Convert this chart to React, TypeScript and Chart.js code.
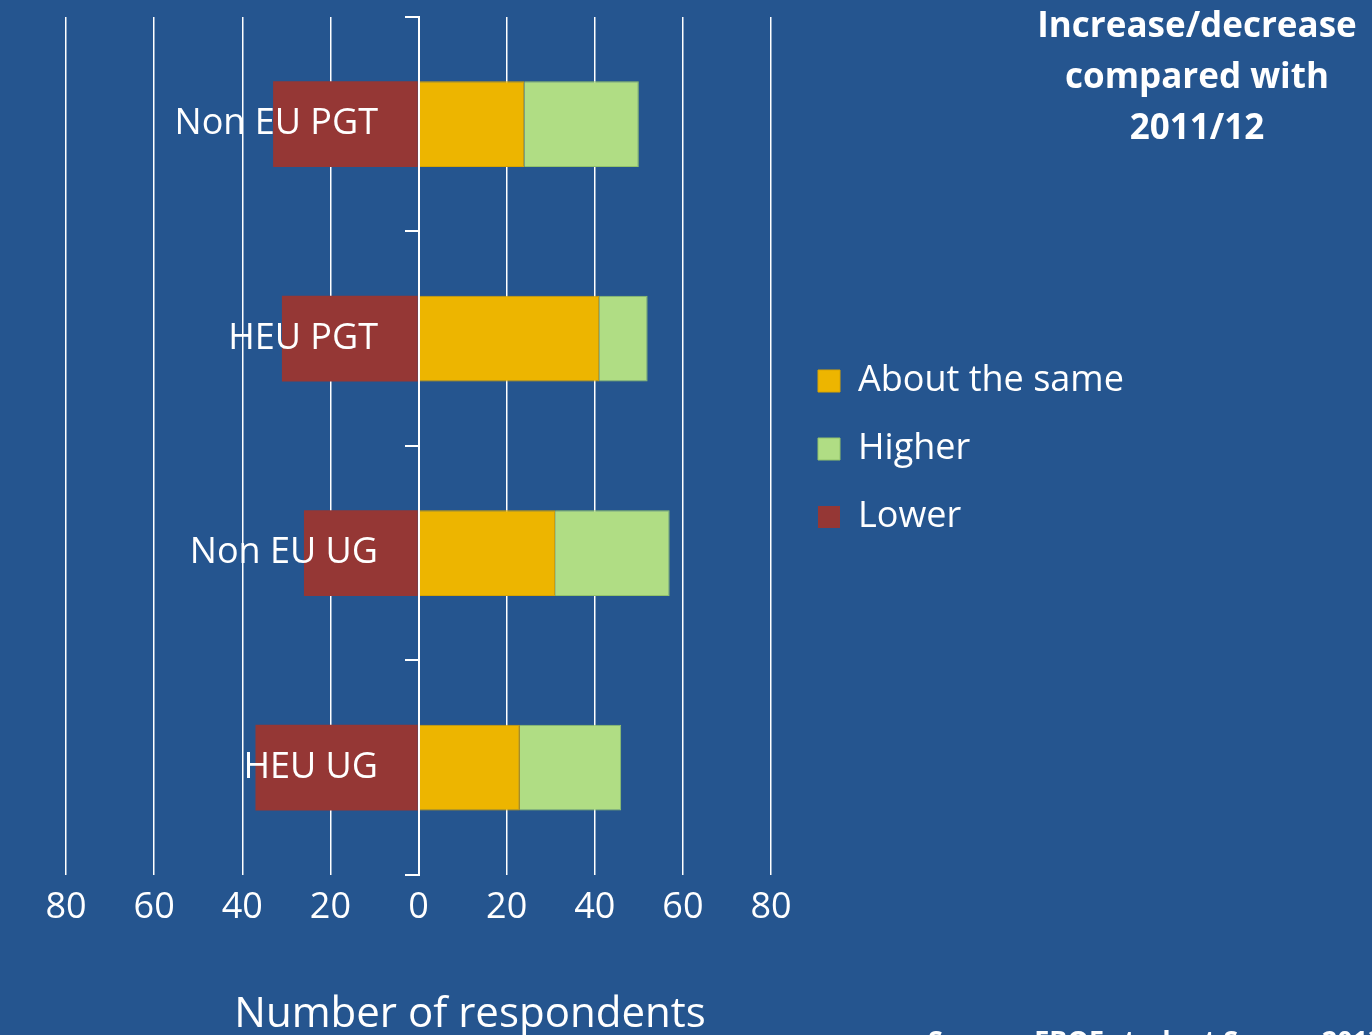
import React, { useEffect, useRef } from 'react';
import { Chart, registerables } from 'chart.js';

Chart.register(...registerables);

// ---- Data ----
const CATEGORIES = ['Non EU PGT', 'HEU PGT', 'Non EU UG', 'HEU UG'];
const ABOUT_THE_SAME = [24, 41, 31, 23];
const HIGHER = [26, 11, 26, 23];
const LOWER = [-33, -31, -26, -37];
const SERIES_NAMES = ['About the same', 'Higher', 'Lower'];
const X_MIN = -80;
const X_TICK_MAX = 80;
const X_STEP = 20;

const TITLE_LINES = ['Increase/decrease', 'compared with', '2011/12'];
const AXIS_TITLE = 'Number of respondents';
const SOURCE_TEXT = 'Source: EBQF student Survey 2013';

// ---- Styles ----
const BG = '#25558F';
const FONT = '"Open Sans", "DejaVu Sans", sans-serif';
const C_SAME = '#EDB500';
const C_HIGHER = '#B0DD84';
const C_LOWER = '#953735';

const zeroPadding = (s: any) => {
  s.paddingTop = 0;
  s.paddingBottom = 0;
};

export default function App() {
  const ref = useRef<HTMLCanvasElement>(null);

  useEffect(() => {
    document.body.style.margin = '0';
    document.body.style.background = BG;
    const canvas = ref.current!;

    // plot geometry (pixels)
    const plotTop = 17;
    const plotLeft = 66;
    const plotTickRight = 771; // pixel of +80
    const zeroPx = plotLeft + (plotTickRight - plotLeft) / 2;
    const labelRightPx = 378;
    const legendFontSize = 36;
    const legendPad = 32;
    const legendBoxLeft = 818;
    const legendLeft = legendBoxLeft - legendPad;
    const legendFirstTextMid = 381;
    const legendTitleFont = 10;
    const legendTitleSpace =
      legendFirstTextMid - legendFontSize / 2 - legendPad - plotTop - legendTitleFont * 1.2;

    const mctx = document.createElement('canvas').getContext('2d')!;
    mctx.font = `${legendFontSize}px ${FONT}`;
    const maxText = Math.max(...SERIES_NAMES.map((t) => mctx.measureText(t).width));
    const legendWidth = legendPad + 22 + legendFontSize / 2 + maxText + 10;
    const rightPad = Math.max(0, 1372 - (legendLeft + legendWidth));

    const pxPerUnit = (plotTickRight - plotLeft) / (X_TICK_MAX - X_MIN);
    const xMax = X_MIN + (legendLeft - plotLeft) / pxPerUnit;
    const labelAxisValue = (labelRightPx - zeroPx) / pxPerUnit;

    const chart = new Chart(canvas, {
      type: 'bar',
      data: {
        labels: CATEGORIES,
        datasets: [
          {
            label: SERIES_NAMES[0],
            data: ABOUT_THE_SAME,
            backgroundColor: C_SAME,
            borderColor: '#D9A400',
            borderWidth: 1,
          },
          {
            label: SERIES_NAMES[1],
            data: HIGHER,
            backgroundColor: C_HIGHER,
            borderColor: '#93C36A',
            borderWidth: 1,
          },
          {
            label: SERIES_NAMES[2],
            data: LOWER,
            backgroundColor: C_LOWER,
            borderColor: C_LOWER,
            borderWidth: 0,
          },
        ],
      },
      options: {
        indexAxis: 'y',
        responsive: false,
        maintainAspectRatio: false,
        animation: false,
        layout: {
          padding: { top: plotTop, left: plotLeft, right: rightPad, bottom: 95 },
        },
        datasets: {
          bar: { barPercentage: 0.4, categoryPercentage: 1 },
        },
        scales: {
          x: {
            type: 'linear',
            stacked: true,
            min: X_MIN,
            max: xMax,
            position: 'bottom',
            ticks: {
              stepSize: X_STEP,
              includeBounds: false,
              color: '#FFFFFF',
              font: { family: FONT, size: 36 },
              padding: 11,
              callback: (v: any) => String(Math.abs(Number(v))),
            },
            grid: {
              color: '#FFFFFF',
              lineWidth: 1.5,
              drawTicks: false,
            },
            border: { display: false },
          },
          y: {
            type: 'category',
            stacked: true,
            position: { x: 0 } as any,
            offset: true,
            afterFit: zeroPadding,
            ticks: { display: false },
            grid: {
              offset: true,
              drawOnChartArea: false,
              drawTicks: true,
              tickLength: 13,
              color: '#FFFFFF',
              lineWidth: 2,
            },
            border: { display: true, color: '#FFFFFF', width: 2, z: 1 },
          },
          yLabels: {
            type: 'category',
            position: { x: labelAxisValue } as any,
            offset: true,
            afterFit: zeroPadding,
            ticks: {
              color: '#FFFFFF',
              font: { family: FONT, size: 36 },
              padding: 0,
              z: 2,
            },
            grid: { display: false, drawOnChartArea: false, drawTicks: false },
            border: { display: false },
          },
        },
        plugins: {
          legend: {
            display: true,
            position: 'right',
            align: 'start',
            maxWidth: 600,
            title: {
              display: true,
              text: '',
              font: { size: legendTitleFont },
              padding: { top: 0, bottom: legendTitleSpace },
            },
            labels: {
              color: '#FFFFFF',
              font: { family: FONT, size: legendFontSize },
              boxWidth: 22,
              boxHeight: 22,
              padding: legendPad,
            },
          },
          title: { display: false },
          tooltip: { enabled: false },
        },
      },
    });
    return () => chart.destroy();
  }, []);

  return (
    <div
      style={{
        position: 'relative',
        width: 1372,
        height: 1035,
        background: BG,
        overflow: 'hidden',
        fontFamily: FONT,
        color: '#FFFFFF',
      }}
    >
      <canvas ref={ref} width={1372} height={1035} style={{ position: 'absolute', left: 0, top: 0 }} />
      <div
        style={{
          position: 'absolute',
          left: 997,
          width: 400,
          top: -2,
          textAlign: 'center',
          fontWeight: 700,
          fontSize: 35,
          lineHeight: '51px',
        }}
      >
        {TITLE_LINES.map((l) => (
          <div key={l}>{l}</div>
        ))}
      </div>
      <div
        style={{
          position: 'absolute',
          left: 170,
          width: 600,
          top: 990,
          textAlign: 'center',
          fontSize: 42,
          lineHeight: '42px',
          whiteSpace: 'nowrap',
        }}
      >
        {AXIS_TITLE}
      </div>
      <div
        style={{
          position: 'absolute',
          left: 928,
          top: 1026,
          fontSize: 27,
          fontWeight: 700,
          lineHeight: '27px',
          whiteSpace: 'nowrap',
        }}
      >
        {SOURCE_TEXT}
      </div>
    </div>
  );
}
